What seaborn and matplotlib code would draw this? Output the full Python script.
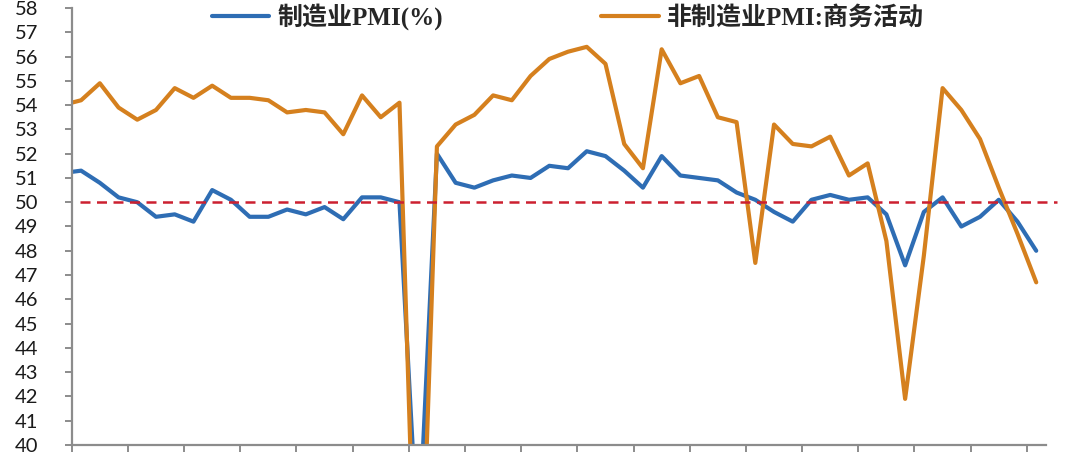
import numpy as np
import pandas as pd
import matplotlib
matplotlib.use('Agg')
import matplotlib.pyplot as plt
import seaborn as sns

# monthly data, Jul 2018 - Nov 2022
months = pd.period_range('2018-07', '2022-11', freq='M').strftime('%Y-%m').tolist()

mfg_pmi = [51.2, 51.3, 50.8, 50.2, 50.0, 49.4,
           49.5, 49.2, 50.5, 50.1, 49.4, 49.4, 49.7, 49.5, 49.8, 49.3, 50.2, 50.2,
           50.0, 35.7, 52.0, 50.8, 50.6, 50.9, 51.1, 51.0, 51.5, 51.4, 52.1, 51.9,
           51.3, 50.6, 51.9, 51.1, 51.0, 50.9, 50.4, 50.1, 49.6, 49.2, 50.1, 50.3,
           50.1, 50.2, 49.5, 47.4, 49.6, 50.2, 49.0, 49.4, 50.1, 49.2, 48.0]

nonmfg_pmi = [54.0, 54.2, 54.9, 53.9, 53.4, 53.8,
              54.7, 54.3, 54.8, 54.3, 54.3, 54.2, 53.7, 53.8, 53.7, 52.8, 54.4, 53.5,
              54.1, 29.6, 52.3, 53.2, 53.6, 54.4, 54.2, 55.2, 55.9, 56.2, 56.4, 55.7,
              52.4, 51.4, 56.3, 54.9, 55.2, 53.5, 53.3, 47.5, 53.2, 52.4, 52.3, 52.7,
              51.1, 51.6, 48.4, 41.9, 47.8, 54.7, 53.8, 52.6, 50.6, 48.7, 46.7]

series_names = ['制造业PMI(%)', '非制造业PMI:商务活动']
threshold = 50

df = pd.DataFrame({
    'month': months,
    'x': np.arange(len(months)) - 1,
    series_names[0]: mfg_pmi,
    series_names[1]: nonmfg_pmi,
})
long_df = df.melt(id_vars=['month', 'x'], var_name='series', value_name='value')

sns.set_style('white')
plt.rcParams['font.family'] = ['Lato', 'DejaVu Sans']

fig = plt.figure(figsize=(10.69, 4.55), dpi=100)
ax = fig.add_axes([0.0671, 0.022, 0.9110, 0.9604])

sns.lineplot(data=long_df, x='x', y='value', hue='series', hue_order=series_names,
             palette=['#2E6DB4', '#D5801E'], linewidth=3.0, ax=ax, legend=True)

ax.axhline(threshold, xmin=0.009, xmax=1.012, color='#CC2030', linewidth=1.8,
           linestyle=(0, (4, 2.6)), clip_on=False, zorder=3)

ax.set_xlim(-0.5, 51.5)
ax.set_ylim(40, 58)
ax.set_yticks(np.arange(40, 59, 1))
ax.set_xticks(np.arange(18) * 3 - 0.5)
ax.set_xticklabels([])
ax.set_xlabel('')
ax.set_ylabel('')

for side in ['top', 'right']:
    ax.spines[side].set_visible(False)
for side in ['left', 'bottom']:
    ax.spines[side].set_color('#8C8C8C')
    ax.spines[side].set_linewidth(1.6)

ax.tick_params(axis='y', direction='out', length=5, width=1.4, color='#8C8C8C',
               labelsize=14.5, pad=19, labelcolor='#1A1A1A', left=True)
ax.tick_params(axis='x', direction='out', length=5, width=1.4, color='#8C8C8C',
               bottom=True)

handles, labels = ax.get_legend_handles_labels()
ax.legend_.remove()
fig.legend(handles, labels, loc='center', bbox_to_anchor=(568 / 1069, 1 - 17 / 455),
           bbox_transform=fig.transFigure, ncol=2, frameon=False,
           handlelength=2.3, handletextpad=0.35, columnspacing=6.3,
           prop={'family': ['Liberation Serif', 'Noto Sans CJK SC'],
                 'weight': 'bold', 'size': 18})

fig.savefig('out.png', dpi=100)
